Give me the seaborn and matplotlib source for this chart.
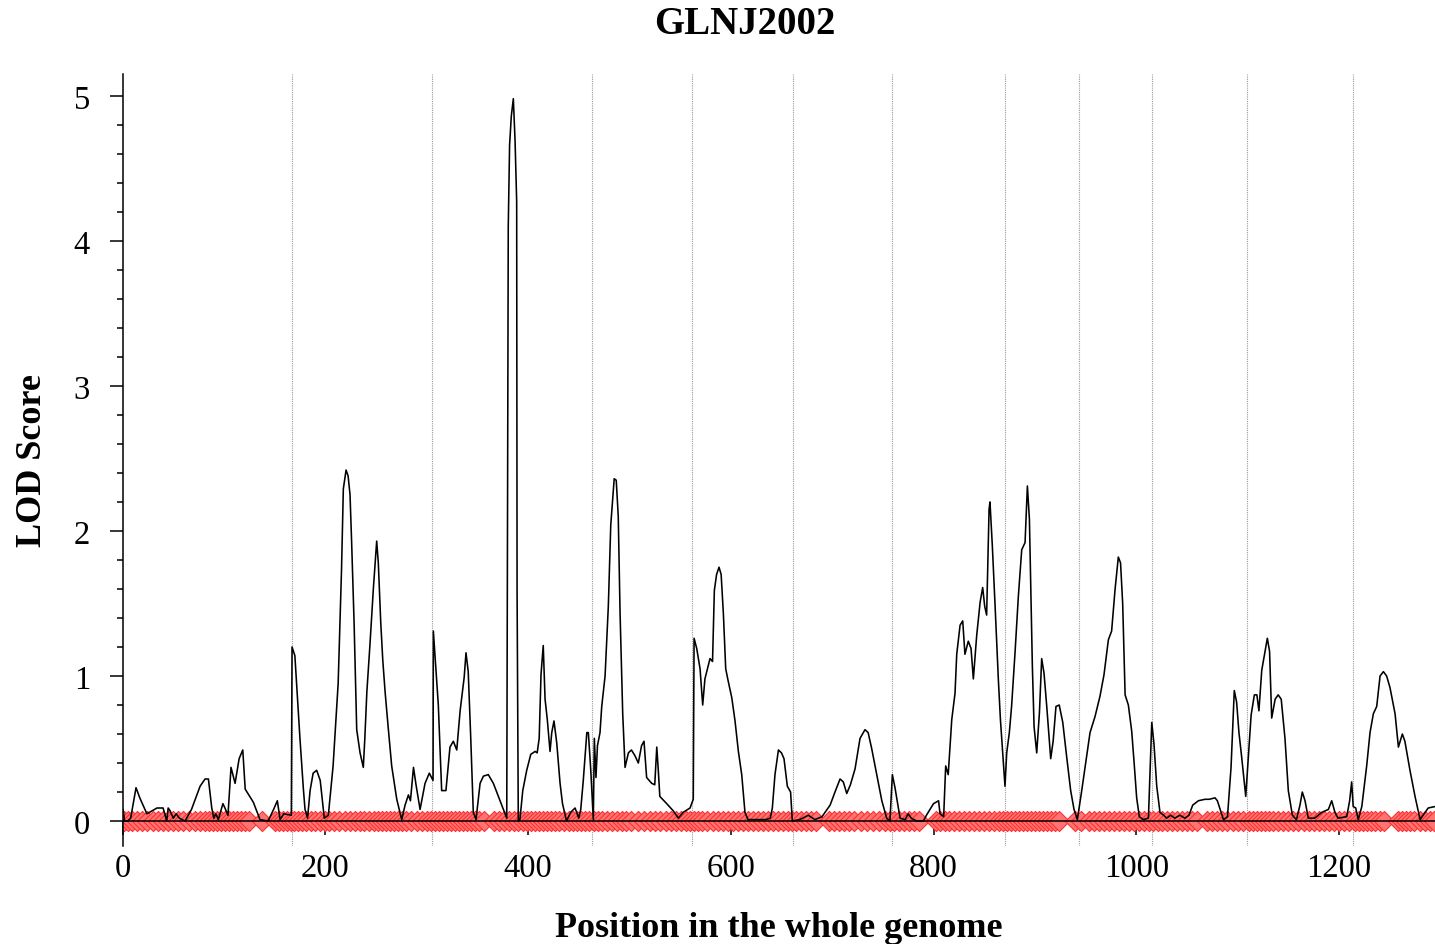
import matplotlib
matplotlib.use("Agg")
import matplotlib.pyplot as plt
import pandas as pd
import seaborn as sns
from matplotlib.ticker import MultipleLocator

# LOD profile, one list of (position cM, LOD) per chromosome
chr1 = [(0.5, 0.08), (2, 0.0), (5, 0.0), (8, 0.02), (13.3, 0.23), (17, 0.16), (24, 0.05),
        (34, 0.09), (40, 0.09), (43.6, 0.0), (45, 0.09), (47, 0.07), (50, 0.02), (53, 0.05),
        (56, 0.02), (61.6, 0.0), (68, 0.08), (76.5, 0.24), (81.4, 0.29), (84.7, 0.29),
        (88, 0.09), (90, 0.02), (92, 0.05), (94.5, 0.01), (99, 0.12), (101, 0.09), (104, 0.04),
        (107, 0.37), (111, 0.26), (115, 0.43), (118.6, 0.49), (121, 0.22), (129, 0.13),
        (135.6, 0.01), (143.6, 0.0), (149, 0.08), (152.7, 0.14), (155.4, 0.01), (159, 0.05),
        (166.5, 0.04)]
chr2 = [(167.2, 1.2), (170, 1.14), (175, 0.57), (178.4, 0.22), (180, 0.08), (182.5, 0.02),
        (185, 0.21), (188, 0.33), (191.5, 0.35), (195, 0.28), (199, 0.02), (203, 0.04),
        (207.7, 0.38), (212.7, 0.95), (216, 1.73), (217.8, 2.29), (220.5, 2.42), (222.5, 2.38),
        (224.4, 2.25), (226, 1.92), (228.4, 1.37), (231, 0.63), (234.3, 0.47), (237.5, 0.37),
        (239, 0.57), (241, 0.89), (244, 1.21), (247.4, 1.6), (250.7, 1.93), (252.3, 1.78),
        (254.7, 1.37), (256.7, 1.11), (259, 0.89), (262, 0.65), (265.5, 0.38), (270.5, 0.15),
        (275.4, 0.01), (278.7, 0.11), (282, 0.18), (284, 0.14), (287, 0.37), (289.5, 0.25),
        (293.5, 0.08), (298.4, 0.26), (302.6, 0.33), (306.3, 0.28)]
chr3 = [(306.6, 1.31), (309.3, 1.03), (311.5, 0.8), (314.8, 0.21), (319, 0.21), (323, 0.51),
        (326.3, 0.55), (329.7, 0.49), (333, 0.76), (337, 0.99), (338.8, 1.16), (341, 1.03),
        (343.5, 0.57), (346, 0.06), (348.7, 0.01), (352.7, 0.26), (356, 0.31), (360.8, 0.32),
        (365.8, 0.26), (372.4, 0.14), (379, 0.02), (380.5, 4.1), (381.8, 4.66), (383.5, 4.86),
        (385.5, 4.98), (387.2, 4.69), (388.8, 4.27), (389.2, 1.58), (390.4, 0.0), (392, 0.01),
        (394.8, 0.21), (398.7, 0.35), (402.7, 0.46), (407, 0.48), (409, 0.47), (411, 0.57),
        (412.8, 1.01), (415, 1.21), (416.8, 0.84), (419, 0.7), (421.7, 0.48), (423.4, 0.61),
        (425.6, 0.69), (428.3, 0.54), (431.6, 0.26), (434, 0.12), (438, 0.0), (442, 0.06),
        (446.4, 0.09), (450, 0.02), (452, 0.08), (454.5, 0.28), (458, 0.61), (459.5, 0.61),
        (461.9, 0.35), (464.4, 0.01)]
chr4 = [(465.4, 0.57), (467, 0.3), (468.5, 0.52), (471, 0.61), (472.7, 0.79), (476, 1.0),
        (479.2, 1.48), (481.6, 2.04), (483.5, 2.22), (485, 2.36), (487, 2.35), (489, 2.1),
        (490.8, 1.43), (493.4, 0.74), (495.7, 0.37), (499, 0.47), (502, 0.49), (505.5, 0.45),
        (508.8, 0.4), (512, 0.52), (514.4, 0.55), (517, 0.3), (522, 0.26), (525, 0.25),
        (527, 0.51), (528.5, 0.35), (530, 0.17), (536.8, 0.12), (543.3, 0.07), (548.3, 0.02),
        (553, 0.06), (559.8, 0.09), (563, 0.15)]
chr5 = [(563.8, 1.26), (566.4, 1.19), (569.7, 1.05), (572.3, 0.8), (574.5, 0.98), (577, 1.05),
        (579.5, 1.12), (582, 1.1), (583.8, 1.59), (586, 1.7), (588.4, 1.75), (590.5, 1.7),
        (592.7, 1.43), (595, 1.05), (597.6, 0.96), (601, 0.85), (604.2, 0.69), (607.5, 0.48),
        (610.8, 0.32), (614, 0.06), (617, 0.01), (628.8, 0.01), (635, 0.01), (639, 0.02),
        (641, 0.09), (643.6, 0.32), (647, 0.49), (650, 0.47), (652.5, 0.43), (655.8, 0.24),
        (659, 0.2), (660.7, 0.0)]
chr6 = [(668, 0.01), (676.5, 0.04), (683, 0.01), (690, 0.03), (698, 0.11), (702.8, 0.2),
        (707.8, 0.29), (711, 0.27), (714.4, 0.19), (718, 0.25), (722.6, 0.36), (727.5, 0.57),
        (732.4, 0.63), (735.5, 0.61), (739, 0.5), (744, 0.32), (749, 0.14), (753.8, 0.02),
        (757, 0.0)]
chr7 = [(759.4, 0.32), (762, 0.23), (767, 0.02), (772, 0.01), (775, 0.05), (778, 0.02),
        (783.4, 0.0), (790, 0.0), (793, 0.04), (800, 0.12), (805, 0.14), (806.4, 0.05),
        (810, 0.03), (812, 0.38), (814.5, 0.32), (818, 0.7), (821.2, 0.88), (822.9, 1.15),
        (826.2, 1.35), (828.8, 1.38), (831, 1.15), (834.3, 1.24), (837, 1.19), (839.3, 0.98),
        (842.6, 1.28), (846, 1.51), (848.5, 1.61), (850.5, 1.48), (852.4, 1.42), (854.8, 2.15),
        (855.7, 2.2), (858, 1.9), (860.7, 1.49), (864, 0.97), (866, 0.7), (868.9, 0.4),
        (870.5, 0.24)]
chr8 = [(872.2, 0.47), (874.8, 0.61), (877, 0.79), (880.4, 1.16), (883.7, 1.55), (887, 1.87),
        (890.3, 1.92), (892.6, 2.31), (894.6, 2.08), (897.5, 1.07), (899.2, 0.65),
        (901.8, 0.47), (904.5, 0.75), (906.7, 1.12), (909, 1.02), (911.7, 0.79), (915.6, 0.43),
        (918, 0.55), (920.8, 0.79), (924, 0.8), (927.5, 0.68), (931.4, 0.44), (935.3, 0.21),
        (938.6, 0.08), (941.9, 0.01)]
chr9 = [(946.2, 0.21), (950.5, 0.42), (954.4, 0.61), (959.3, 0.72), (964.2, 0.86),
        (968.2, 1.01), (972.5, 1.25), (975.7, 1.31), (979, 1.59), (982.3, 1.82), (984.5, 1.78),
        (986.6, 1.5), (989, 0.87), (992.2, 0.8), (995.5, 0.62), (997.8, 0.41), (1000.4, 0.16),
        (1003, 0.03), (1007, 0.01), (1012, 0.02), (1013.6, 0.35)]
chr10 = [(1015.3, 0.68), (1017.5, 0.53), (1020.2, 0.24), (1023.4, 0.06), (1027, 0.04),
         (1030, 0.02), (1034, 0.04), (1038, 0.02), (1043, 0.04), (1048, 0.02), (1052, 0.04),
         (1055.7, 0.11), (1061.3, 0.14), (1067.8, 0.15), (1072, 0.15), (1077.7, 0.16),
         (1080, 0.14), (1086, 0.01), (1090, 0.03), (1093.5, 0.37), (1096.7, 0.9), (1099, 0.82),
         (1101.3, 0.61), (1104, 0.44), (1108, 0.17)]
chr11 = [(1110.5, 0.43), (1113.3, 0.73), (1116.5, 0.87), (1119, 0.87), (1121, 0.76),
         (1123.8, 1.04), (1127, 1.17), (1129.3, 1.26), (1131.5, 1.17), (1133.6, 0.71),
         (1137, 0.84), (1140, 0.87), (1143, 0.84), (1146.7, 0.57), (1150, 0.21), (1154, 0.04),
         (1158, 0.01), (1161.5, 0.11), (1163.8, 0.2), (1166.5, 0.14), (1169.7, 0.02),
         (1176, 0.02), (1183, 0.06), (1189.5, 0.08), (1192.8, 0.14), (1196, 0.06), (1199, 0.02),
         (1207.6, 0.03), (1210.5, 0.14), (1212.5, 0.27), (1214, 0.1)]
chr12 = [(1216.5, 0.09), (1219, 0.01), (1222.5, 0.1), (1227.3, 0.38), (1230.6, 0.61),
         (1233.9, 0.74), (1237.2, 0.79), (1240.5, 1.0), (1243.8, 1.03), (1247, 1.0),
         (1250.3, 0.92), (1255.3, 0.74), (1258.6, 0.51), (1262.5, 0.6), (1265, 0.55),
         (1270, 0.35), (1275, 0.17), (1280, 0.01), (1285, 0.06), (1288, 0.09), (1294.7, 0.1)]

# marker positions on the map (cM)
markers = [1, 5, 9, 14, 19, 24, 30, 35, 40, 45, 50, 55, 60, 66, 71, 76, 81, 85, 89, 93, 97,
           101, 105, 109, 113, 117, 121, 125, 138, 150, 154, 158, 162, 166,
           169, 173, 177, 181, 186, 190, 195, 200, 204, 209, 214, 219, 224, 229, 234, 238, 243,
           248, 252, 256, 260, 264, 268, 272, 276, 280, 285, 290, 295, 300, 304,
           308, 312, 316, 320, 324, 328, 332, 336, 340, 344, 348, 352, 357, 366, 371, 376, 381,
           386, 390, 395, 399, 403, 407, 411, 415, 419, 423, 427, 431, 435, 440, 444, 448, 452,
           456, 460,
           465, 469, 473, 478, 483, 488, 493, 497, 502, 508, 514, 520, 525, 530, 536, 541, 546,
           551, 556, 560,
           564, 568, 572, 577, 582, 587, 592, 597, 602, 607, 612, 617, 622, 627, 632, 637, 642,
           647, 652, 656, 660,
           664, 669, 674, 679, 684, 697, 702, 707, 712, 717, 722, 728, 734, 740, 746, 752, 757,
           761, 766, 771, 776, 781, 786, 802, 806, 811, 815, 820, 825, 830, 835, 840, 845, 850,
           855, 860, 865, 869,
           872, 876, 880, 884, 888, 892, 896, 900, 904, 908, 912, 916, 920, 924, 940, 945,
           953, 958, 963, 968, 973, 978, 983, 988, 993, 998, 1003, 1008, 1013,
           1017, 1021, 1025, 1030, 1035, 1040, 1045, 1050, 1055, 1060, 1070, 1075, 1080, 1085,
           1090, 1095, 1100, 1105,
           1111, 1115, 1119, 1123, 1127, 1131, 1135, 1140, 1145, 1150, 1155, 1160, 1165, 1170,
           1175, 1180, 1185, 1190, 1195, 1200, 1205, 1210,
           1216, 1220, 1224, 1228, 1232, 1236, 1240, 1244, 1258, 1262, 1266, 1270, 1274, 1280,
           1285, 1290, 1294]

# chromosome boundaries (cM)
chrom_bounds = [167.2, 305.4, 463.3, 561.9, 661.5, 759.1, 870.5, 943.5, 1015.5, 1109.3, 1213.8]

xticks = [0, 200, 400, 600, 800, 1000, 1200]
yticks = [0, 1, 2, 3, 4, 5]

sns.set_style("ticks")
plt.rcParams['font.family'] = ['Liberation Serif', 'DejaVu Serif']
plt.rcParams['text.color'] = 'black'
plt.rcParams['axes.labelcolor'] = 'black'
plt.rcParams['xtick.color'] = 'black'
plt.rcParams['ytick.color'] = 'black'

profile = chr1 + chr2 + chr3 + chr4 + chr5 + chr6 + chr7 + chr8 + chr9 + chr10 + chr11 + chr12
df = pd.DataFrame(profile, columns=['pos', 'lod'])
mk = pd.DataFrame({'pos': markers, 'lod': [0.0] * len(markers)})

fig = plt.figure(figsize=(14.35, 9.45), dpi=100)
ax = fig.add_axes([0.0854, 0.1037, 0.9146, 0.8169])

for b in chrom_bounds:
    ax.axvline(b, color='#9a9a9a', linestyle=(0, (1, 1)), linewidth=0.8, zorder=1)

sns.scatterplot(data=mk, x='pos', y='lod', marker='D', s=105, color='#ff7373',
                edgecolor='#ff3030', linewidth=0.8, ax=ax, zorder=2, legend=False)
sns.lineplot(data=df, x='pos', y='lod', sort=False, estimator=None, color='black',
             linewidth=1.15, ax=ax, zorder=3)

ax.set_xlim(0, 1294.7)
ax.set_ylim(-0.172, 5.15)
ax.set_xticks(xticks)
ax.set_yticks(yticks)
ax.yaxis.set_minor_locator(MultipleLocator(0.2))

ax.spines['top'].set_visible(False)
ax.spines['right'].set_visible(False)
ax.spines['bottom'].set_position(('data', 0))
ax.spines['bottom'].set_zorder(4)
for s in ['left', 'bottom']:
    ax.spines[s].set_linewidth(1.1)
    ax.spines[s].set_color('black')

ax.tick_params(axis='x', which='major', direction='out', length=10, width=1.1,
               labelsize=23.5, pad=13, colors='black')
ax.tick_params(axis='y', which='major', direction='out', length=9.4, width=1.1,
               labelsize=23.5, pad=14, colors='black')
ax.tick_params(axis='y', which='minor', direction='out', length=4.3, width=1.1)

ax.set_xlabel('Position in the whole genome', fontsize=26, fontweight='bold', labelpad=20)
ax.set_ylabel('LOD Score', fontsize=26, fontweight='bold', labelpad=18)

fig.text(745 / 1435, 1 - 25 / 945, 'GLNJ2002', ha='center', va='center',
         fontsize=28, fontweight='bold')

fig.savefig('out.png', dpi=100)
